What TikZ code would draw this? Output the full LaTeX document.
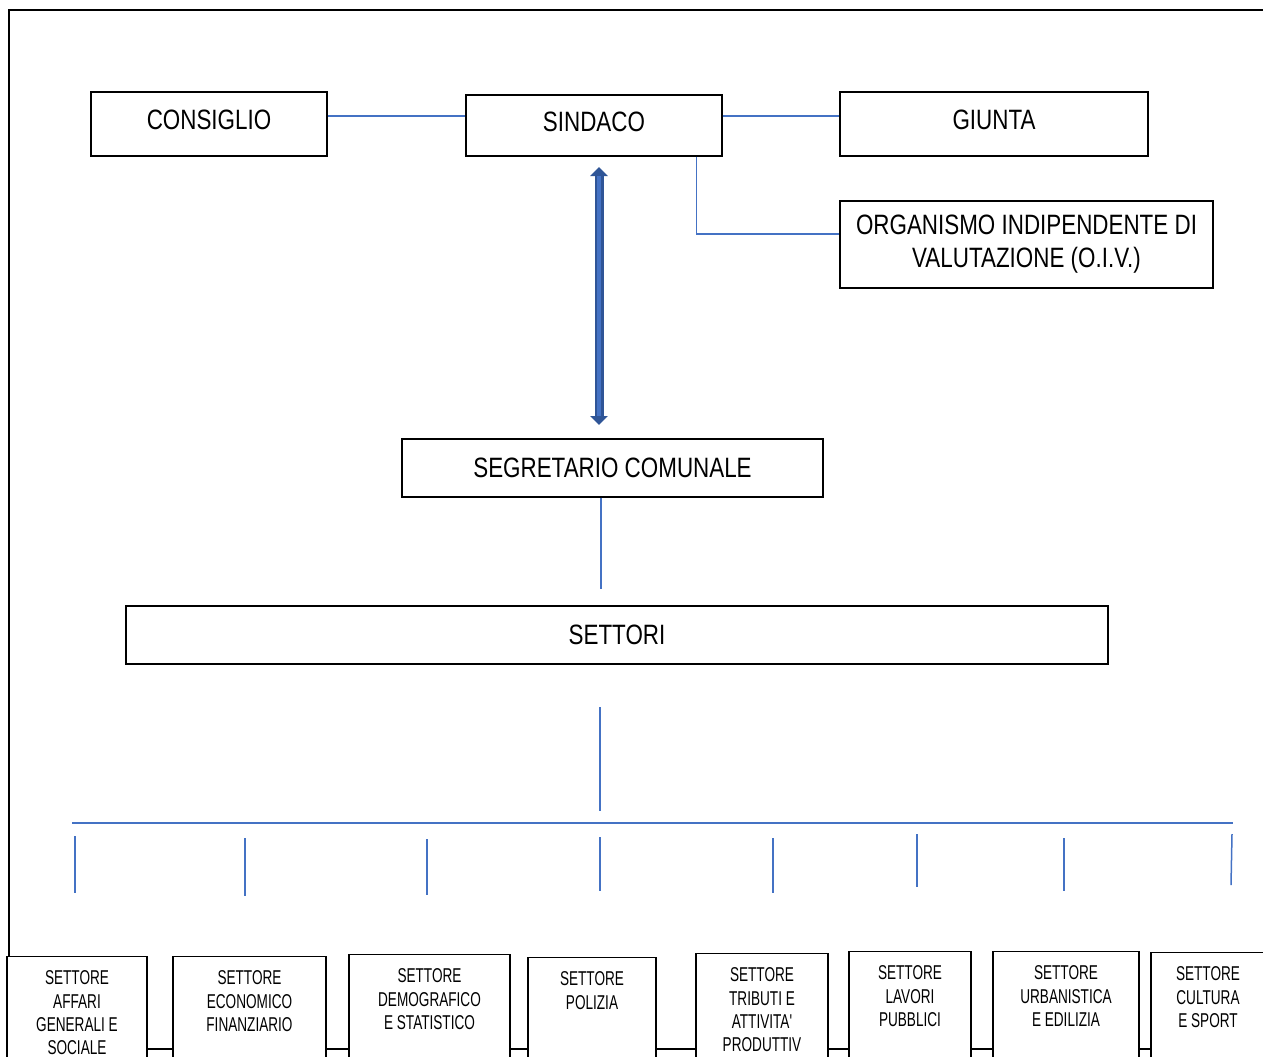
\documentclass[tikz,border=0pt]{standalone}
\usepackage{fontspec}
\setmainfont{Liberation Sans}
\newfontfamily\bigfont[FakeStretch=0.8]{Liberation Sans}
\newfontfamily\unitfont[FakeStretch=0.68]{Liberation Sans}
\usetikzlibrary{arrows.meta}
\definecolor{lineblue}{HTML}{4472C4}
\definecolor{arrowdark}{HTML}{2F5597}
\definecolor{arrowlight}{HTML}{4472C4}

\tikzset{
  topbox/.style={draw, line width=0.7pt, fill=white, inner sep=0pt, align=center,
    font=\bigfont\fontsize{14}{16.5}\selectfont},
  headbox/.style={topbox, text height=10pt, text depth=4.5pt},
  unitbox/.style={draw, line width=0.7pt, fill=white, inner xsep=0pt, inner ysep=7pt,
    anchor=north, font=\unitfont\fontsize{10}{11.7}\selectfont},
  blueline/.style={draw=lineblue, line width=0.75pt},
  frameline/.style={draw=black, line width=1pt}
}

\begin{document}
\begin{tikzpicture}[x=0.5pt, y=-0.5pt]
    \useasboundingbox (0,0) rectangle (1263,1056);
    \clip (0,0) rectangle (1263,1056);
    % page frame
    \coordinate (frameTL) at (9,10);
    \coordinate (frameTR) at (1263,10);
    \coordinate (frameBL) at (9,956);
    \draw[frameline] (frameTR) -- (frameTL) -- (frameBL);
    % rail behind the settori
    \coordinate (railL) at (140,1049);
    \coordinate (railR) at (1263,1049);
    \draw[frameline] (railL) -- (railR);

    % organi di governo
    \node[headbox, minimum width=118pt, minimum height=32pt] (consiglio) at (209,124) {CONSIGLIO};
    \node[headbox, minimum width=128pt, minimum height=30.5pt] (sindaco) at (594,125.5) {SINDACO};
    \node[headbox, minimum width=154pt, minimum height=32pt] (giunta) at (994,124) {GIUNTA};
    \node[topbox, minimum width=186.5pt, minimum height=43.5pt] (oiv) at (1026.5,244.5)
        {ORGANISMO INDIPENDENTE DI\\VALUTAZIONE (O.I.V.)};
    \coordinate (toprow) at (0,116);
    \draw[blueline] (consiglio.east |- toprow) -- (sindaco.west |- toprow);
    \draw[blueline] (sindaco.east |- toprow) -- (giunta.west |- toprow);
    \draw[blueline] ([xshift=-13pt]sindaco.south east) |- ([yshift=5.25pt]oiv.west);

    % double arrow
    \coordinate (arrowtop) at (599,167);
    \coordinate (arrowbot) at (599,425);
    \draw[arrowdark, line width=4.5pt, {Triangle[width=8.5pt,length=4.5pt]}-{Triangle[width=8.5pt,length=4.5pt]}] (arrowtop) -- (arrowbot);
    \draw[arrowlight, line width=2pt, shorten <=4.5pt, shorten >=4.5pt] (arrowtop) -- (arrowbot);

    \node[topbox, minimum width=210.5pt, minimum height=29pt] (segretario) at (612.5,468) {SEGRETARIO COMUNALE};
    \coordinate (segend) at (601,589);
    \draw[blueline] ([xshift=-5.75pt]segretario.south) -- (segend);

    \node[topbox, minimum width=491pt, minimum height=29pt] (settori) at (617,635) {SETTORI};

    % distribution bus
    \coordinate (disttop) at (600,707);
    \coordinate (distbot) at (600,811);
    \draw[blueline] (disttop) -- (distbot);
    \coordinate (busL) at (72,823);
    \coordinate (busR) at (1233,823);
    \draw[blueline] (busL) -- (busR);
    \foreach \i/\xa/\ya/\xb/\yb in {1/75/836/75/893, 2/245/838/245/896, 3/427/839/427/895,
        4/600/837/600/891, 5/773/838/773/893, 6/917/834/917/887, 7/1064/838/1064/891,
        8/1232/834/1231/885} {
      \coordinate (droptop\i) at (\xa,\ya);
      \coordinate (dropbot\i) at (\xb,\yb);
      \draw[blueline] (droptop\i) -- (dropbot\i);
    }

    % settori
    \node[unitbox] (affari) at (77,956)
        {\parbox[c][47pt][t]{70pt}{\centering SETTORE\\AFFARI\\GENERALI E\\SOCIALE}};
    \node[unitbox] (economico) at (249.5,956)
        {\parbox[c][47pt][t]{76.5pt}{\centering SETTORE\\ECONOMICO\\FINANZIARIO}};
    \node[unitbox] (demografico) at (429.5,954)
        {\parbox[c][47pt][t]{80.5pt}{\centering SETTORE\\DEMOGRAFICO\\E STATISTICO}};
    \node[unitbox] (polizia) at (592,957)
        {\parbox[c][47pt][t]{64pt}{\centering SETTORE\\POLIZIA}};
    \node[unitbox] (tributi) at (762,953)
        {\parbox[c][47pt][t]{66pt}{\centering SETTORE\\TRIBUTI E\\ATTIVITA'\\PRODUTTIV}};
    \node[unitbox] (lavori) at (910,951)
        {\parbox[c][47pt][t]{61pt}{\centering SETTORE\\LAVORI\\PUBBLICI}};
    \node[unitbox] (urbanistica) at (1066,951)
        {\parbox[c][47pt][t]{73pt}{\centering SETTORE\\URBANISTICA\\E EDILIZIA}};
    \node[unitbox] (cultura) at (1208,952)
        {\parbox[c][47pt][t]{57pt}{\centering SETTORE\\CULTURA\\E SPORT}};
\end{tikzpicture}
\end{document}
